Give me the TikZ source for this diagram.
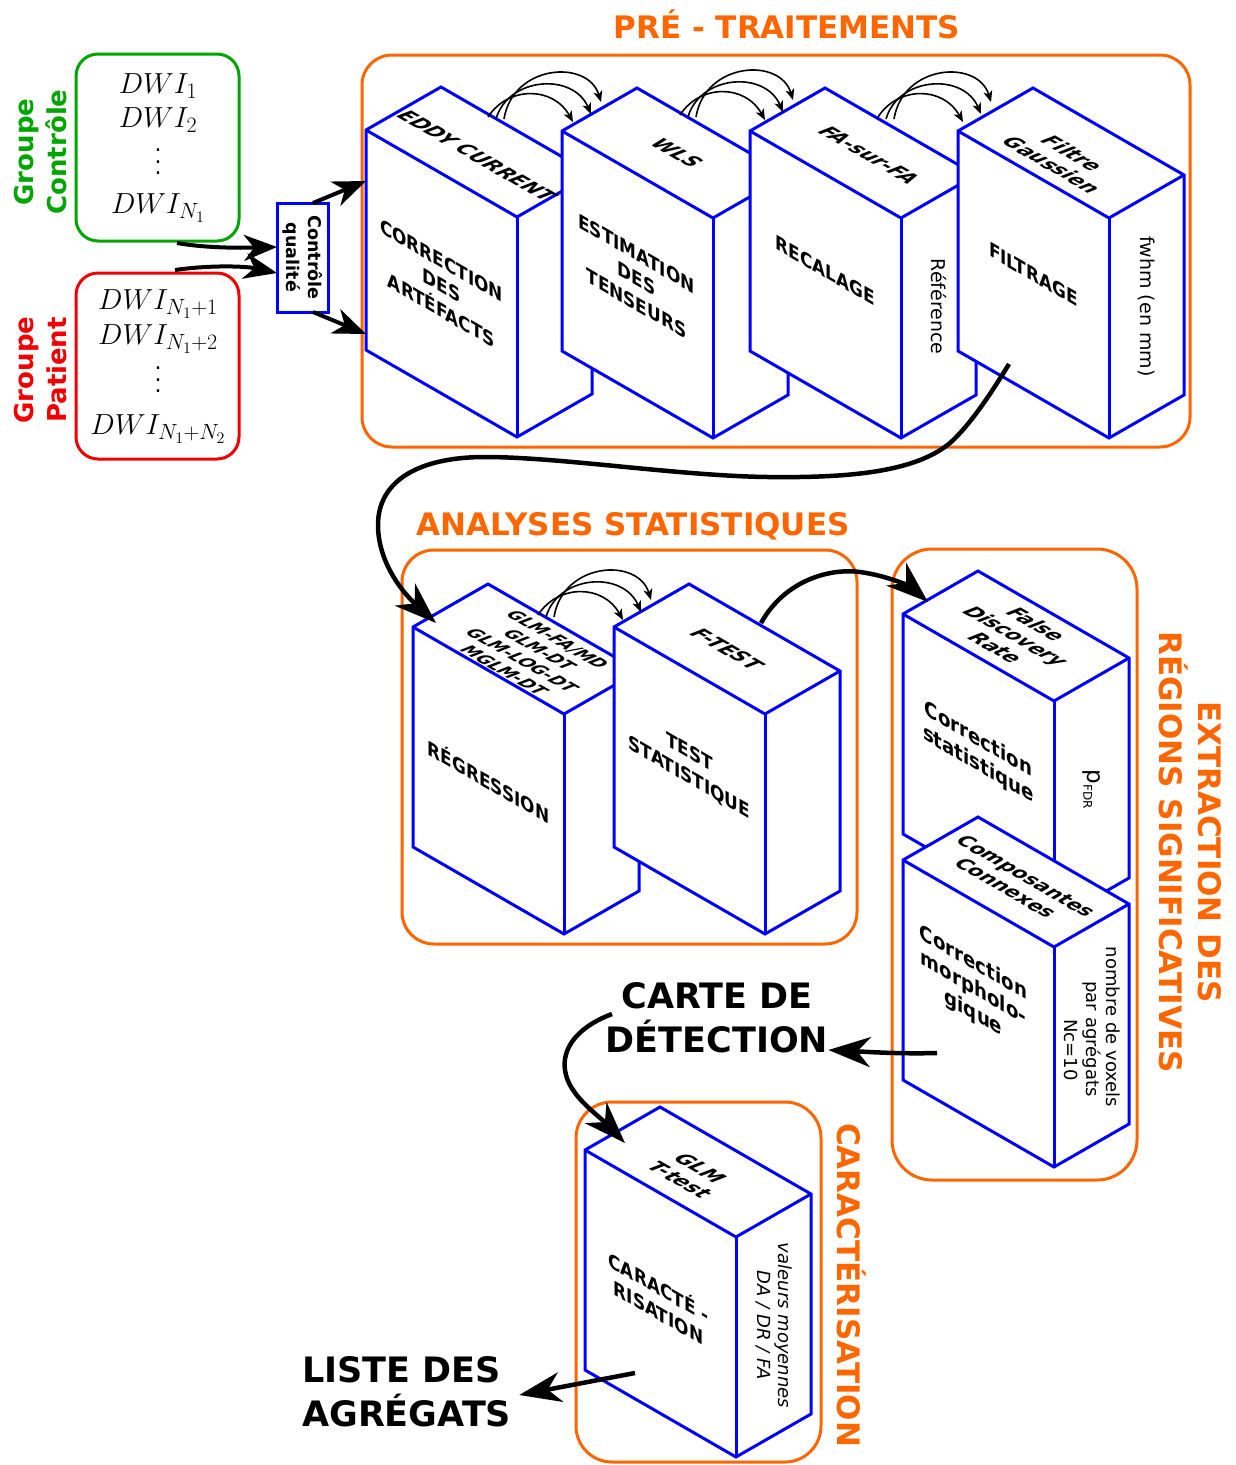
\RequirePackage{fix-cm}
\documentclass[tikz,border=0pt]{standalone}
\usepackage[no-math]{fontspec}
\setmainfont{DejaVu Sans}
\usetikzlibrary{arrows.meta,calc}
\DeclareMathSizes{29}{29}{22}{16}
\definecolor{orng}{RGB}{255,102,0}
\definecolor{grn}{RGB}{0,165,0}
\definecolor{rd}{RGB}{240,0,0}
\definecolor{blu}{RGB}{0,0,255}
\newcommand\fsz[2]{\fontsize{#1}{#2}\selectfont}
\newcommand\mydots{\fsz{22}{11.5}\vbox{\baselineskip=11.5pt\lineskiplimit=-50pt\hbox{.}\hbox{.}\hbox{.}}}
\newcommand\isobox[3]{%
  \coordinate (#1) at (#2,#3);
  \filldraw[fill=white, boxline] (#1) -- ++(75,-43) -- ++(151,87) -- ++(0,220) -- ++(-75,43) -- ++(-151,-87) -- cycle;
  \draw[boxline] (#1) -- ++(151,87) -- ++(75,-43);
  \draw[boxline] ($(#1)+(151,87)$) -- ++(0,220);
  \coordinate (#1-top) at ($(#1)+(113,22)$);
  \coordinate (#1-front) at ($(#1)+(75.5,153.5)$);
  \coordinate (#1-side) at ($(#1)+(188.5,175.5)$);
}
\newcommand\arcgroup[1]{%
  \draw[smallarc] (#1) .. controls ($(#1)+(20,-31)$) and ($(#1)+(65,-31)$) .. ($(#1)+(85,5)$);
  \draw[smallarc] ($(#1)+(8,2)$) .. controls ($(#1)+(20,-40)$) and ($(#1)+(85,-45)$) .. ($(#1)+(103,-3)$);
  \draw[smallarc] ($(#1)+(16,2)$) .. controls ($(#1)+(25,-53)$) and ($(#1)+(100,-58)$) .. ($(#1)+(113,-15)$);
}
\tikzset{
  boxline/.style={draw=blu, line width=3pt, line join=miter},
  secbox/.style={draw=orng, line width=3pt, rounded corners=32pt},
  ttl/.style={text=orng, font=\fsz{31}{39}\bfseries, inner sep=0pt, align=center},
  topface/.style={transform shape, cm={0.866,-0.5,0.866,0.5,(0,0)}, inner sep=0pt, align=center},
  frontface/.style={transform shape, cm={0.866,-0.5,0,1,(0,0)}, inner sep=0pt, align=center},
  toplbl/.style={topface, font=\fsz{20}{23.5}\bfseries\itshape},
  toplblu/.style={topface, font=\fsz{20}{23.5}\bfseries},
  frontlbl/.style={frontface, font=\fsz{19.5}{25}\bfseries},
  frontlblm/.style={frontface, font=\fsz{21}{25}\bfseries},
  sidelbl/.style={font=\fsz{19}{22}, align=center, rotate=-90, inner sep=0pt},
  bigarrow/.style={line width=4.5pt, -{Stealth[length=42pt,width=30pt,inset=13pt]}},
  medarrow/.style={line width=4pt, -{Stealth[length=33pt,width=26pt,inset=10pt]}},
  smallarc/.style={line width=1.6pt, -{Stealth[length=11pt,width=9pt,inset=3pt]}},
  dwi/.style={font=\fsz{29}{34}, inner sep=0pt},
  grplbl/.style={font=\fsz{26}{33}\bfseries, rotate=90, align=center, inner sep=0pt},
  bigtxt/.style={font=\fsz{35}{44}\bfseries, inner sep=0pt},
}
\begin{document}
\begin{tikzpicture}[x=1pt,y=-1pt]
\useasboundingbox (0,0) rectangle (1236,1465);
% ---- section frames
\draw[secbox, rounded corners=30pt] (362,55) rectangle (1190,447);
\draw[secbox] (402,550) rectangle (857,944);
\draw[secbox, rounded corners=40pt] (892,549) rectangle (1137,1180);
\draw[secbox, rounded corners=36pt] (576,1102) rectangle (821,1462);
% ---- section titles
\node[ttl, anchor=base] (t1) at (787,38) {PRÉ - TRAITEMENTS};
\node[ttl, anchor=base] (t2) at (633,535) {ANALYSES STATISTIQUES};
\node[ttl, rotate=-90] (t3) at (1190,852) {EXTRACTION DES\\RÉGIONS SIGNIFICATIVES};
\node[ttl, rotate=-90, anchor=base] (t4) at (837,1285) {CARACTÉRISATION};
% ---- groups
\node[draw=grn, line width=3pt, rounded corners=22pt, minimum width=163pt, minimum height=187pt, inner sep=0pt] (gctl) at (157.5,147.5) {};
\node[draw=rd, line width=3pt, rounded corners=22pt, minimum width=163pt, minimum height=186pt, inner sep=0pt] (gpat) at (157.5,366) {};
\node[dwi] (c1) at (158,86) {$DWI_1$};
\node[dwi] (c2) at (158,120) {$DWI_2$};
\node[inner sep=0pt] (c3) at (158,162) {\mydots};
\node[dwi] (c4) at (158,208) {$DWI_{N_1}$};
\node[dwi] (p1) at (158,304) {$DWI_{N_1+1}$};
\node[dwi] (p2) at (158,339) {$DWI_{N_1+2}$};
\node[inner sep=0pt] (p3) at (158,380) {\mydots};
\node[dwi] (p4) at (158,429) {$DWI_{N_1+N_2}$};
\node[grplbl, text=grn] (lctl) at (41,152) {Groupe\\Contrôle};
\node[grplbl, text=rd] (lpat) at (41,370) {Groupe\\Patient};
% ---- quality control
\node[draw=blu, line width=3pt, rotate=-90, minimum width=109pt, minimum height=51pt, inner sep=0pt, align=center, font=\fsz{17.5}{22}\bfseries] (qc) at (302.5,257.5) {Contrôle\\qualité};
% ---- pre-processing boxes
\isobox{b1}{366}{130}
\isobox{b2}{562}{131}
\isobox{b3}{750}{131}
\isobox{b4}{958}{131}
\node[toplbl] (b1t) at ($(b1-top)+(-2,4)$) {EDDY CURRENT};
\node[frontlbl] (b1f) at ($(b1-front)+(0,2)$) {CORRECTION\\DES\\ARTÉFACTS};
\node[toplbl] (b2t) at ($(b2-top)+(2,0)$) {WLS};
\node[frontlbl] (b2f) at ($(b2-front)+(-1,-6)$) {ESTIMATION\\DES\\TENSEURS};
\node[toplbl] (b3t) at ($(b3-top)+(6,2)$) {FA-sur-FA};
\node[frontlbl] (b3f) at ($(b3-front)+(0,-14)$) {RECALAGE};
\node[sidelbl] (b3s) at (b3-side) {Référence};
\node[toplbl] (b4t) at ($(b4-top)+(-9,6)$) {Filtre\\Gaussien};
\node[frontlbl] (b4f) at ($(b4-front)+(0,-10)$) {FILTRAGE};
\node[sidelbl] (b4s) at (b4-side) {fwhm (en mm)};
% ---- statistical analysis boxes
\isobox{b5}{413}{627}
\isobox{b6}{614}{627}
\node[topface, font=\fsz{17}{20.5}\bfseries\itshape] (b5t) at ($(b5-top)+(5,6)$) {GLM-FA/MD\\GLM-DT\\GLM-LOG-DT\\MGLM-DT};
\node[frontlbl] (b5f) at (b5-front) {RÉGRESSION};
\node[toplbl] (b6t) at (b6-top) {F-TEST};
\node[frontlbl] (b6f) at ($(b6-front)+(0,-15)$) {TEST\\STATISTIQUE};
% ---- extraction boxes
\isobox{b7}{903}{614}
\node[toplbl] (b7t) at (b7-top) {False\\Discovery\\Rate};
\node[frontlblm] (b7f) at ($(b7-front)+(0,-15)$) {Correction\\statistique};
\node[sidelbl] (b7s) at (b7-side) {\fsz{23}{23}p\raisebox{-4pt}{\fsz{12}{12}FDR}};
\isobox{b8}{903}{860}
\node[toplblu] (b8t) at (b8-top) {Composantes\\Connexes};
\node[frontlblm] (b8f) at ($(b8-front)+(-5,-25)$) {Correction\\morpholo-\\gique};
\node[sidelbl, font=\fsz{18}{21}] (b8s1) at (1113,1027) {nombre de voxels};
\node[sidelbl, font=\fsz{18}{21}] (b8s2) at (1092,1039) {par agrégats};
\node[sidelbl, font=\fsz{18}{21}] (b8s3) at (1071,1050) {Nc=10};
% ---- characterisation box
\isobox{b9}{585}{1150}
\node[toplbl] (b9t) at ($(b9-top)+(-8,2)$) {GLM\\T-test};
\node[frontlbl] (b9f) at ($(b9-front)+(-2,-5)$) {CARACTÉ -\\RISATION};
\node[sidelbl, font=\fsz{18}{21}\itshape] (b9s) at (b9-side) {valeurs moyennes\\DA / DR / FA};
% ---- outputs
\node[bigtxt, align=center] (carte) at (717,1018) {CARTE DE\\DÉTECTION};
\node[bigtxt, align=left, anchor=west] (liste) at (302,1392) {LISTE DES\\AGRÉGATS};
% ---- small arcs
\coordinate (a1) at ($(b1)+(122,-13)$);
\coordinate (a2) at ($(b2)+(118,-16)$);
\coordinate (a3) at ($(b3)+(128,-14)$);
\coordinate (a4) at ($(b5)+(125,-12)$);
\arcgroup{a1}
\arcgroup{a2}
\arcgroup{a3}
\arcgroup{a4}
% ---- connectors
\coordinate (g1o) at (177,243);
\coordinate (qci1) at (277,247);
\coordinate (g2o) at (175,270);
\coordinate (qci2) at (277,273);
\coordinate (qco1) at (313,203);
\coordinate (b1i1) at (366,181);
\coordinate (qco2) at (313,312);
\coordinate (b1i2) at (366,334);
\draw[medarrow] (g1o) .. controls (205,248) and (240,248) .. (qci1);
\draw[medarrow] (g2o) .. controls (210,265) and (245,266) .. (qci2);
\draw[medarrow] (qco1) -- (b1i1);
\draw[medarrow] (qco2) -- (b1i2);
\coordinate (b4o) at (1009,364);
\coordinate (b5i) at (436,623);
\draw[bigarrow] (b4o) .. controls (990,395) and (970,425) .. (950,443)
  .. controls (915,472) and (850,478) .. (768,477)
  .. controls (680,476) and (560,457) .. (485,457)
  .. controls (420,457) and (378,480) .. (378,525)
  .. controls (378,560) and (400,590) .. (b5i);
\coordinate (b6o) at (761,623);
\coordinate (b7i) at (928,602);
\draw[bigarrow] (b6o) .. controls (785,580) and (830,568) .. (860,572)
  .. controls (890,576) and (912,588) .. (b7i);
\coordinate (b8o) at (937,1053);
\draw[bigarrow] (b8o) .. controls (900,1054) and (870,1052) .. (carte.east |- 0,1050);
\coordinate (co) at (612,1014);
\coordinate (b9i) at (625,1143);
\draw[bigarrow] (co) .. controls (575,1028) and (562,1050) .. (565,1070)
  .. controls (568,1095) and (598,1115) .. (b9i);
\coordinate (b9o) at (635,1373);
\draw[bigarrow] (b9o) -- ($(liste.east)+(8,3)$);
\end{tikzpicture}
\end{document}
